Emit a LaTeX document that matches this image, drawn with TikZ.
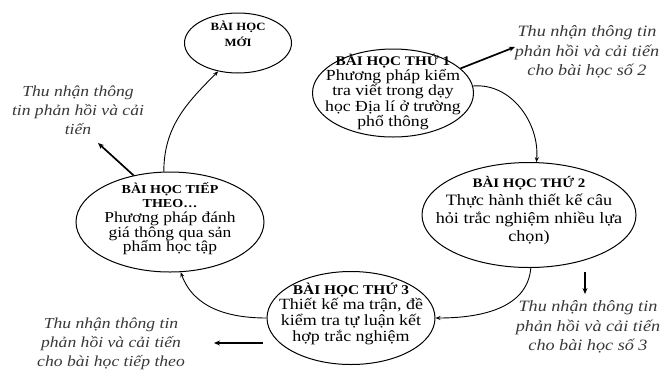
\documentclass[tikz,border=0pt]{standalone}
\usepackage{fontspec}
\setmainfont{Liberation Serif}[FakeStretch=1.15]
\usetikzlibrary{shapes.geometric,arrows.meta}
\begin{document}
\begin{tikzpicture}[x=1pt,y=-1pt]
\useasboundingbox (0,0) rectangle (662,376);
\tikzset{
  bub/.style={ellipse, draw, line width=1pt, inner sep=0pt},
  txt/.style={align=center, inner sep=0pt},
  con/.style={line width=0.9pt, -{Stealth[length=5pt,width=4pt]}},
  fbarrow/.style={line width=1.7pt, -{Stealth[length=6pt,width=5pt]}},
  fb/.style={align=center, inner sep=0pt, text=black!78, font=\itshape\fontsize{15.3}{19.2}\selectfont},
  fbr/.style={fb, font=\itshape\fontsize{15.8}{19.2}\selectfont},
}
% ellipses
\node[bub, minimum width=107pt, minimum height=60pt] (e0) at (238,43) {};
\node[bub, minimum width=161pt, minimum height=88pt] (e1) at (393,93) {};
\node[bub, minimum width=214pt, minimum height=105pt] (e2) at (529,215) {};
\node[bub, minimum width=168pt, minimum height=93pt] (e3) at (351,318) {};
\node[bub, minimum width=188pt, minimum height=100pt] (e4) at (170,222) {};
% texts in ellipses
\node[txt, font=\bfseries\fontsize{11.1}{16}\selectfont] (t0) at (238,34) {BÀI HỌC\\MỚI};
\node[txt, font=\fontsize{15.4}{14}\selectfont] (t1) at (393,92)
  {{\bfseries\fontsize{13.2}{14}\selectfont BÀI HỌC THỨ 1}\\[1pt]
   Phương pháp kiểm\\ tra viết trong dạy\\ học Địa lí ở trường\\ phổ thông};
\node[txt, font=\fontsize{15.8}{18}\selectfont] (t2) at (529,211)
  {{\bfseries\fontsize{13}{16}\selectfont BÀI HỌC THỨ 2}\\[0pt]
   Thực hành thiết kế câu\\ hỏi trắc nghiệm nhiều lựa\\ chọn)};
\node[txt, font=\fontsize{15.6}{16}\selectfont] (t3) at (351,314)
  {{\bfseries\fontsize{13.4}{15}\selectfont BÀI HỌC THỨ 3}\\[-1pt]
   Thiết kế ma trận, đề\\ kiểm tra tự luận kết\\ hợp trắc nghiệm};
\node[txt, font=\fontsize{15.2}{14.5}\selectfont] (t4) at (170,219)
  {{\bfseries\fontsize{12.2}{13}\selectfont BÀI HỌC TIẾP}\\[-1pt]
   {\bfseries\fontsize{12.2}{13}\selectfont THEO…}\\[1pt]
   Phương pháp đánh\\ giá thông qua sản\\ phẩm học tập};
% feedback labels
\node[fbr] (l2) at (587,52) {Thu nhận thông tin\\ phản hồi và cải tiến\\ cho bài học số 2};
\node[fb] (lt) at (78,110) {Thu nhận thông\\ tin phản hồi và cải\\ tiến};
\node[fbr] (l3) at (588,327) {Thu nhận thông tin\\ phản hồi và cải tiến\\ cho bài học số 3};
\node[fb] (lb) at (111,344) {Thu nhận thông tin\\ phản hồi và cải tiến\\ cho bài học tiếp theo};
% free ends
\coordinate (p2) at (515,47);
\coordinate (pt) at (98,143);
\coordinate (q3a) at (585,272);
\coordinate (q3b) at (585,294);
\coordinate (qba) at (263,343);
\coordinate (qbb) at (214,343);
% cycle connectors
\draw[con] (e1.5) to[out=5,in=85] (e2.82);
\draw[con] (e2.-88) to[out=-95,in=0] (e3.east);
\draw[con] (e3.west) to[out=180,in=-70] (e4.-78);
\draw[con] (e4.97) to[out=90,in=225] (e0.-125);
% feedback arrows
\draw[fbarrow] (e1.20) -- (p2);
\draw[fbarrow] (e4.128) -- (pt);
\draw[fbarrow] (q3a) -- (q3b);
\draw[fbarrow] (qba) -- (qbb);
\end{tikzpicture}
\end{document}
